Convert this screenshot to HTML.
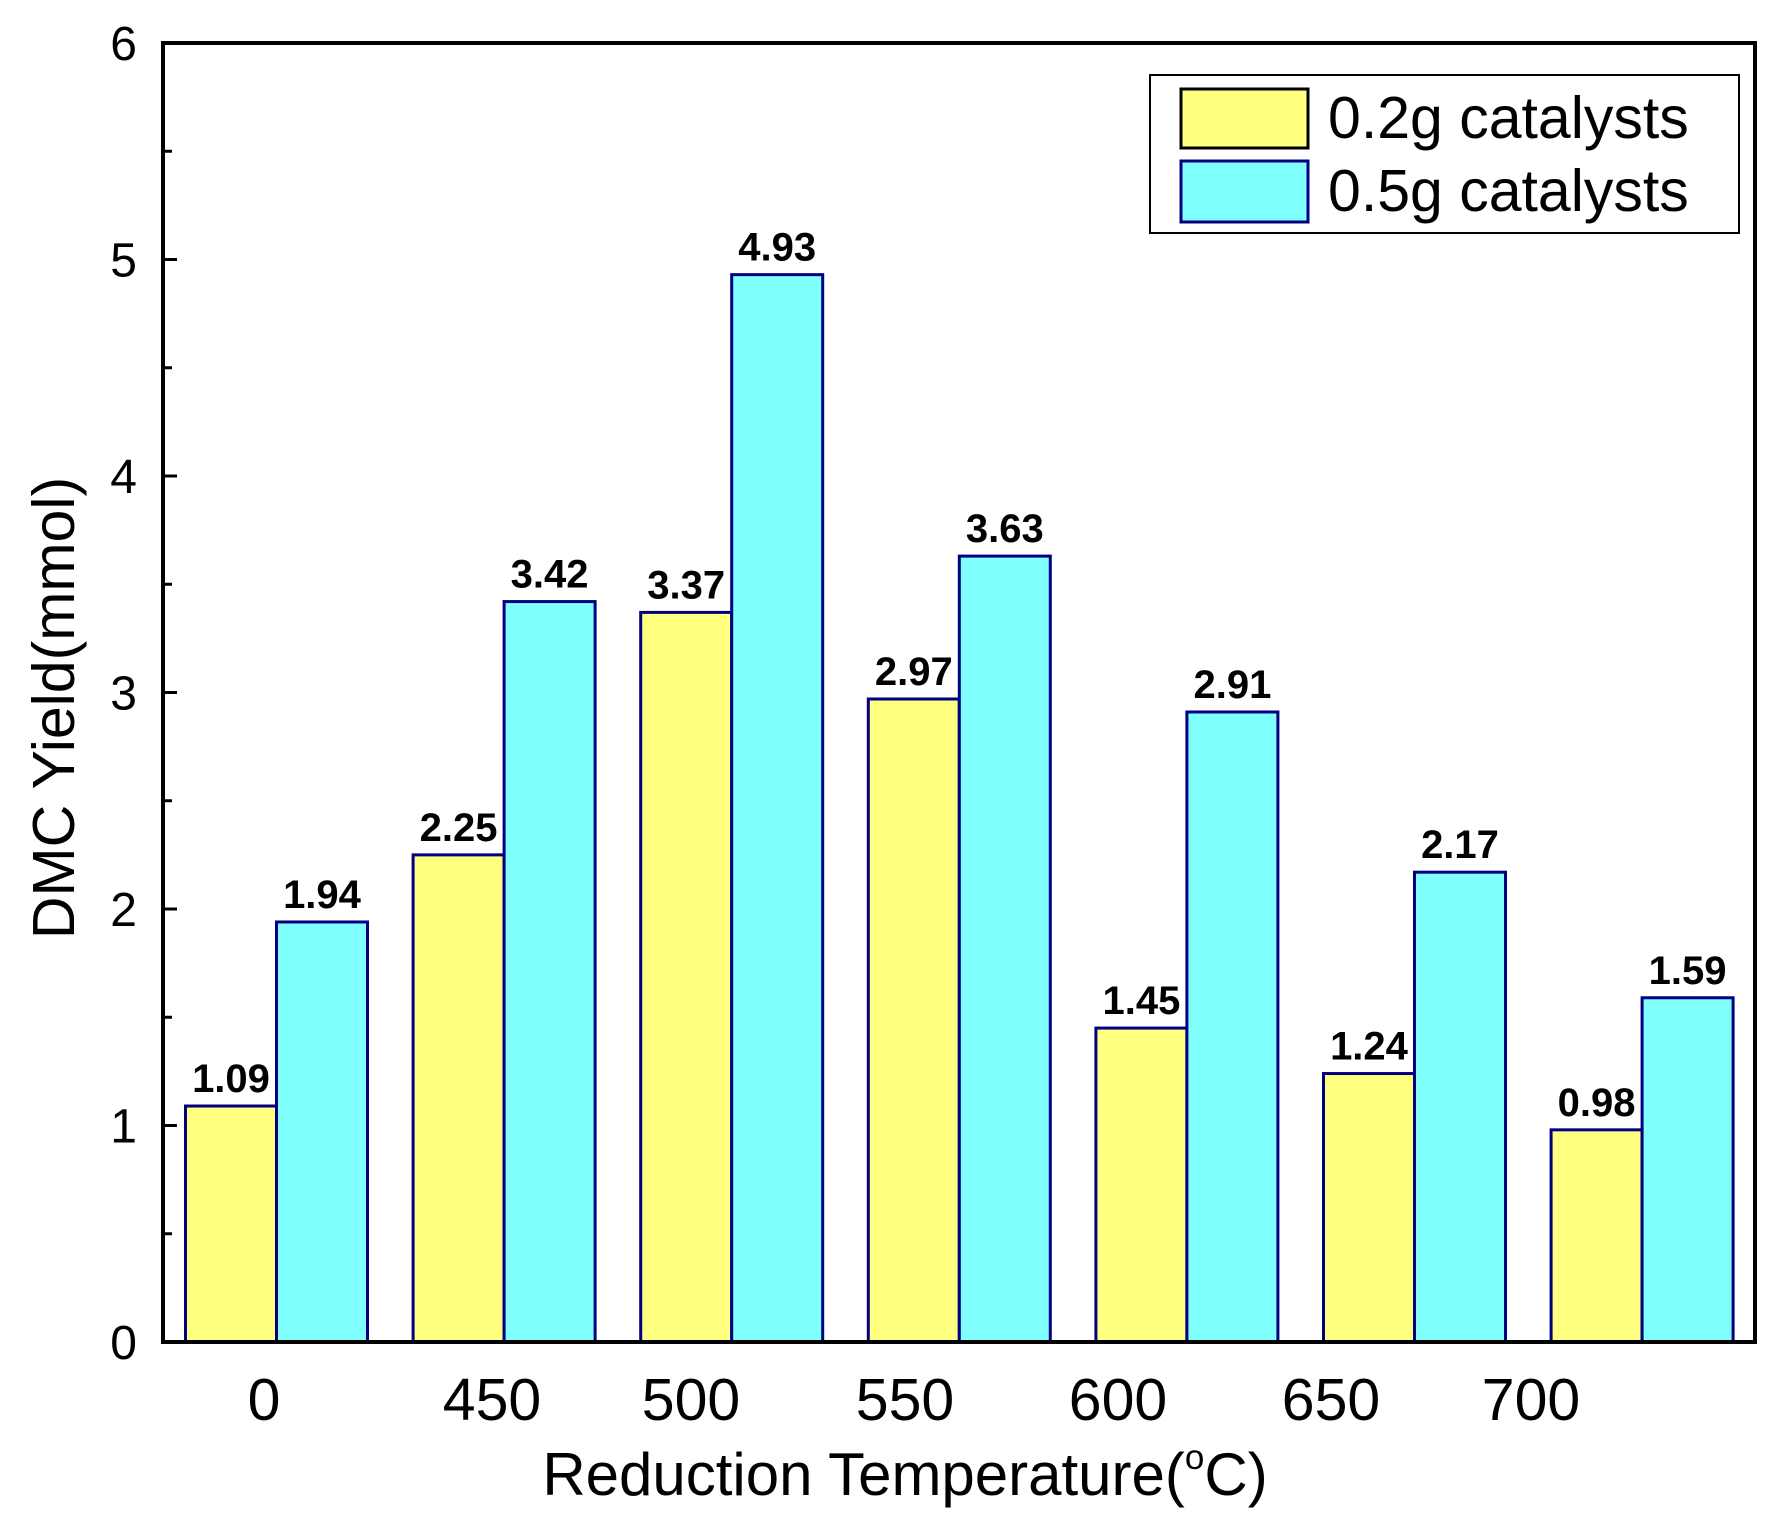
<!DOCTYPE html>
<html><head><meta charset="utf-8"><style>
html,body{margin:0;padding:0;background:#fff;}
svg{display:block;font-family:"Liberation Sans",Arial,sans-serif;}
</style></head><body>
<svg id="chart" width="1784" height="1525" viewBox="0 0 1784 1525" xmlns="http://www.w3.org/2000/svg">
<g id="bars"></g>
<g id="labels"></g>
<rect x="163" y="43" width="1592" height="1299" fill="none" stroke="#000" stroke-width="4"/>
<g id="yaxis"></g>
<g id="xaxis"></g>
<text transform="translate(74,708) rotate(-90)" text-anchor="middle" font-size="59" fill="#000">DMC Yield(mmol)</text>
<text x="905" y="1495" text-anchor="middle" font-size="60" fill="#000">Reduction Temperature(<tspan font-size="35" dy="-26">o</tspan><tspan dy="26">C)</tspan></text>
<g>
<rect x="1150" y="75" width="589" height="158" fill="#fff" stroke="#000" stroke-width="2"/>
<rect x="1181" y="89" width="127" height="59" fill="#ffff80" stroke="#000" stroke-width="3"/>
<text x="1328" y="138" font-size="59" fill="#000">0.2g catalysts</text>
<rect x="1181" y="161" width="127" height="61" fill="#80ffff" stroke="#000080" stroke-width="3"/>
<text x="1328" y="211" font-size="59" fill="#000">0.5g catalysts</text>
</g>
</svg>
<script>
const categories = ["0","450","500","550","600","650","700"];
const series02 = [1.09,2.25,3.37,2.97,1.45,1.24,0.98];
const series05 = [1.94,3.42,4.93,3.63,2.91,2.17,1.59];
const yTicks = [0,1,2,3,4,5,6];
const xLabelX = [264,492,691,905,1118,1331,1531];

const NS="http://www.w3.org/2000/svg";
const y0=1342, yTop=43, yMax=6;
function yScale(v){return y0-(v/yMax)*(y0-yTop);}
const groupStart=185.5, pitch=227.6, bw=91;
function xScale(i){return groupStart+i*pitch;}
function mk(tag,attrs,parent){const e=document.createElementNS(NS,tag);for(const k in attrs)e.setAttribute(k,attrs[k]);parent.appendChild(e);return e;}
const bars=document.getElementById('bars'), labels=document.getElementById('labels');
categories.forEach((c,i)=>{
  const x=xScale(i);
  const a=series02[i], b=series05[i];
  const r1=mk('rect',{x:x,y:yScale(a),width:bw,height:y0-yScale(a),fill:'#ffff80',stroke:'#000080','stroke-width':3},bars);
  
  
  const r2=mk('rect',{x:x+bw,y:yScale(b),width:bw,height:y0-yScale(b),fill:'#80ffff',stroke:'#000080','stroke-width':3},bars);
  
  
  const t1=mk('text',{x:x+bw/2,y:yScale(a)-14,'text-anchor':'middle','font-size':40,'font-weight':'bold',fill:'#000'},labels);
  t1.textContent=a.toFixed(2);
  
  
  const t2=mk('text',{x:x+bw*1.5,y:yScale(b)-14,'text-anchor':'middle','font-size':40,'font-weight':'bold',fill:'#000'},labels);
  t2.textContent=b.toFixed(2);
  
  
  const xl=mk('text',{x:xLabelX[i],y:1420,'text-anchor':'middle','font-size':59,fill:'#000'},document.getElementById('xaxis'));
  xl.textContent=c;
  
  
});
const ya=document.getElementById('yaxis');
yTicks.forEach(v=>{
  const y=yScale(v);
  const tk=mk('line',{x1:163,x2:177,y1:y,y2:y,stroke:'#000','stroke-width':3},ya);
  
  
  const tl=mk('text',{x:137,y:y+17,'text-anchor':'end','font-size':48,fill:'#000'},ya);
  tl.textContent=v;
  
  
  if(v<yMax){
    const m=mk('line',{x1:163,x2:172,y1:yScale(v+0.5),y2:yScale(v+0.5),stroke:'#000','stroke-width':3},ya);
    
    
  }
});
</script>
</body></html>
